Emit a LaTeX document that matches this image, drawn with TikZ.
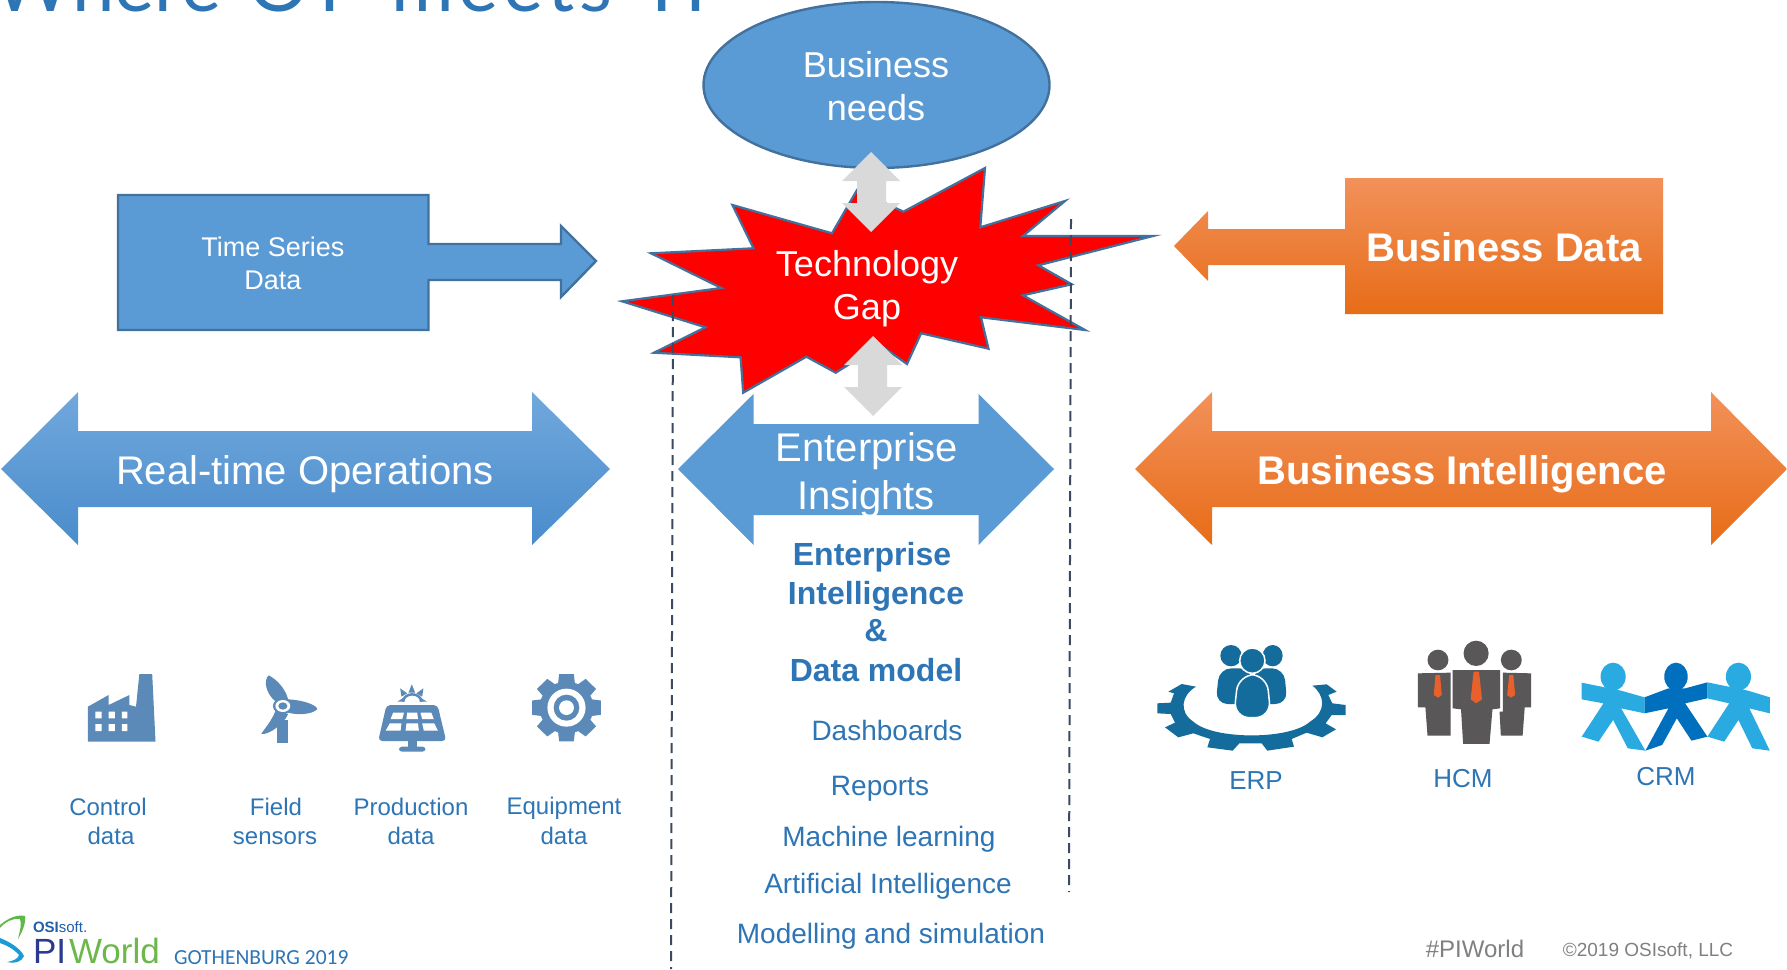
\documentclass[tikz,border=0pt]{standalone}
\usepackage{fontspec}
\setmainfont{Liberation Sans}
\newfontfamily\titlefont{Lato}
\newfontfamily\meetsfont[LetterSpace=6]{Lato}
\newfontfamily\cityfont{Carlito}
\usetikzlibrary{shapes.geometric}
\definecolor{bluefill}{HTML}{5B9BD5}
\definecolor{blueline}{HTML}{41719C}
\definecolor{bluetext}{HTML}{2E75B6}
\definecolor{icongray}{HTML}{595757}
\definecolor{iconblue}{HTML}{5B8AB8}
\definecolor{erpblue}{HTML}{146C9C}
\definecolor{tieorange}{HTML}{E8602C}
\definecolor{crmlight}{HTML}{29ABE2}
\definecolor{crmdark}{HTML}{0070BE}
\definecolor{dashcol}{HTML}{3B4A5E}
\definecolor{gradBa}{HTML}{71A8DC}
\definecolor{gradBb}{HTML}{5A9CDB}
\definecolor{gradBc}{HTML}{4A8CCC}
\definecolor{gradOa}{HTML}{F2915A}
\definecolor{gradOb}{HTML}{F67C28}
\definecolor{gradOc}{HTML}{E76C17}
\definecolor{logoblue}{HTML}{2B3A8F}
\definecolor{logogreen}{HTML}{6CB84A}
\definecolor{logomid}{HTML}{2060A8}
\definecolor{swooshgreen}{HTML}{5DB848}
\definecolor{swooshblue}{HTML}{1C9AD6}
\newcommand{\fs}[1]{\fontsize{#1}{#1}\selectfont}
\tikzset{
  x=1pt,y=-1pt,
  lbl/.style={inner sep=0pt,outer sep=0pt,align=center,text=bluetext},
  wlbl/.style={lbl,text=white},
  shapeblue/.style={fill=bluefill,draw=blueline,line width=2.4pt},
  bluegrad/.style={top color=gradBa,middle color=gradBb,bottom color=gradBc,draw=none},
  orangegrad/.style={top color=gradOa,middle color=gradOb,bottom color=gradOc,draw=none},
  grayarrow/.style={fill=black!15,draw=none},
  gapdash/.style={draw=dashcol,line width=2pt,dash pattern=on 10pt off 6pt},
  zoomA/.style={shift={(0,640)},x=0.4147pt,y=-0.3333pt},
  zoomB/.style={shift={(1130,620)},x=0.419pt,y=-0.3333pt},
  zoomC/.style={shift={(1150,640)},x=0.3333pt,y=-0.3333pt},
}
\begin{document}
\begin{tikzpicture}
\useasboundingbox (0,0) rectangle (1787,969);
\fill[white] (0,0) rectangle (1787,969);

% title, cut by the top edge
\node[lbl,anchor=base west,font=\titlefont] (title) at (-6,11) {\fs{76}Where\hspace{8pt} OT\hspace{20pt} {\meetsfont\fs{76}meets}\hspace{20pt} IT};

% left and right big arrows
\path[bluegrad] (1,469)--(78,392)--(78,431)--(532,431)--(532,392)--(610,469)--(532,545)--(532,507)--(78,507)--(78,545)--cycle;
\path[orangegrad] (1135,469)--(1212,392)--(1212,431)--(1711,431)--(1711,392)--(1787,469)--(1711,545)--(1711,507)--(1212,507)--(1212,545)--cycle;
\fill[bluefill] (678,469)--(753.5,394)--(753.5,424)--(978.5,424)--(978.5,394)--(1054,469)--(978.5,545)--(978.5,515)--(753.5,515)--(753.5,545)--cycle;

% callouts
\path[shapeblue] (118,195)--(428.5,195)--(428.5,244)--(561,244)--(561,226)--(596,261)--(561,297)--(561,280)--(428.5,280)--(428.5,330)--(118,330)--cycle;
\path[orangegrad] (1663,178)--(1663,314)--(1345,314)--(1345,265)--(1208,265)--(1208,281)--(1174,246)--(1208,211)--(1208,229)--(1345,229)--(1345,178)--cycle;

% ellipse
\node[shapeblue,ellipse,minimum width=346pt,minimum height=166pt,inner sep=0pt] (needs) at (876.5,85) {};

% star
\path[fill=red,draw=blueline,line width=2.2pt,line join=miter,miter limit=20]
 (985,168)--(980.3,227.3)--(1065,201)--(1022.9,236)--(1153,236)--(1038.4,265.3)--(1071.7,284.3)--(1022.9,295.3)--(1085,330)--(981,317.3)--(988.5,348.7)--(921.1,333.3)--(907,364)--(880,345)--(835.7,372.7)--(806.4,356.7)--(743.2,392.7)--(740.6,357.3)--(654,352.7)--(705.4,327.3)--(622,301.3)--(721.3,288)--(651,253.3)--(753.5,248.3)--(732.4,205)--(832,233.3)--(857,190)--(903.4,211.7)--cycle;

% dashed lines
\coordinate (dl1) at (673,295); \coordinate (dl2) at (671,969);
\coordinate (dr1) at (1071,219); \coordinate (dr2) at (1069,892);
\draw[gapdash] (dl1)--(dl2);
\draw[gapdash] (dr1)--(dr2);

% grey double arrows
\path[grayarrow] (871,152)--(900,181)--(886,181)--(886,203)--(900,203)--(871,232)--(842,203)--(857,203)--(857,181)--(842,181)--cycle;
\path[grayarrow] (873,336)--(902,365)--(887,365)--(887,387)--(902,387)--(873,416)--(844,387)--(858,387)--(858,365)--(844,365)--cycle;

% big texts
\node[wlbl] (needsA) at (876,65) {\fs{36}Business};
\node[wlbl] (needsB) at (876,108) {\fs{36}needs};
\node[wlbl] (gapA) at (867,267) {\fs{36}Technology};
\node[wlbl] (gapB) at (867,311) {\fs{36}Gap};
\node[wlbl] (tsA) at (273,247) {\fs{27}Time Series};
\node[wlbl] (tsB) at (273,280) {\fs{27}Data};
\node[wlbl,font=\bfseries] (bd) at (1504,247) {\fs{40}Business Data};
\node[wlbl] (rt) at (305,474) {\fs{40}Real-time Operations};
\node[wlbl] (eiA) at (867,451) {\fs{40}Enterprise};
\node[wlbl] (eiB) at (866,499) {\fs{40}Insights};
\node[wlbl,font=\bfseries] (bi) at (1462,474) {\fs{40}Business Intelligence};

% centre column
\node[lbl,font=\bfseries] (c1) at (872,557) {\fs{32}Enterprise};
\node[lbl,font=\bfseries] (c2) at (876,596) {\fs{32}Intelligence};
\node[lbl,font=\bfseries] (c3) at (876,631) {\fs{32}\&};
\node[lbl,font=\bfseries] (c4) at (876,670) {\fs{32}Data model};
\node[lbl] (m1) at (887,730) {\fs{28}Dashboards};
\node[lbl] (m2) at (880,789) {\fs{28}Reports};
\node[lbl] (m3) at (889,839) {\fs{28}Machine learning};
\node[lbl] (m4) at (888,886) {\fs{28}Artificial Intelligence};
\node[lbl] (m5) at (891,936) {\fs{28}Modelling and simulation};

% small labels
\node[lbl] (l1a) at (108,807) {\fs{24}Control};
\node[lbl] (l1b) at (111,836) {\fs{24}data};
\node[lbl] (l2a) at (276,807) {\fs{24}Field};
\node[lbl] (l2b) at (275,838) {\fs{24}sensors};
\node[lbl] (l3a) at (411,807) {\fs{24}Production};
\node[lbl] (l3b) at (411,836) {\fs{24}data};
\node[lbl] (l4a) at (564,808) {\fs{24}Equipment};
\node[lbl] (l4b) at (564,836) {\fs{24}data};
\node[lbl] (erp) at (1256,781) {\fs{26}ERP};
\node[lbl] (hcm) at (1463,779) {\fs{26}HCM};
\node[lbl] (crm) at (1666,777) {\fs{26}CRM};

% footer
\node[lbl,text=black!50] (tag) at (1475,949) {\fs{24}\#PIWorld};
\node[lbl,text=black!50] (copy) at (1648,951) {\fs{19}©2019 OSIsoft, LLC};
\node[lbl,anchor=base west,font=\cityfont] (city) at (174,964) {\fs{21.5}GOTHENBURG 2019};
\node[lbl,anchor=base west,text=logoblue] (pi) at (33,963) {\fs{35}PI};
\node[lbl,anchor=base west,text=logogreen] (world) at (69,963) {\fs{35}World};
\node[lbl,anchor=base west,text=logomid] (osi) at (33,932) {\fs{15}\textbf{OSI}soft.};

% logo swoosh
\fill[swooshgreen] (0,925) .. controls (8,918) and (18,914) .. (25,916) .. controls (26,924) and (22,932) .. (18,939) .. controls (20,930) and (22,924) .. (20,919) .. controls (12,918) and (5,922) .. (0,928) -- cycle;
\fill[swooshblue] (0,938) .. controls (10,942) and (20,948) .. (24,956) .. controls (22,962) and (14,964) .. (7,962) .. controls (13,961) and (18,959) .. (19,955) .. controls (14,949) and (6,945) .. (0,943) -- cycle;

\begin{scope}[zoomA]
% factory
\fill[iconblue] (212,200)--(262,165)--(262,195)--(312,165)--(312,195)--(328,200)--(336,102)--(367,102)--(375,305)--(212,305)--cycle;
\fill[white] (230,215) rectangle (245,235) (262,215) rectangle (277,235) (294,215) rectangle (307,235)
 (230,252) rectangle (245,273) (262,252) rectangle (277,273) (294,252) rectangle (307,273);
% wind turbine
\fill[iconblue] (668,240)--(695,240)--(695,308)--(668,308)--cycle;
\fill[iconblue] (665,185) .. controls (640,160) and (635,120) .. (648,106) .. controls (670,120) and (690,150) .. (695,180)--cycle;
\fill[iconblue] (695,178) .. controls (730,180) and (765,195) .. (765,208) .. controls (750,225) and (715,225) .. (695,218)--cycle;
\fill[iconblue] (665,210) .. controls (655,245) and (635,270) .. (630,282) .. controls (650,285) and (685,250) .. (695,222)--cycle;
\fill[iconblue] (682,198) ellipse[x radius=24,y radius=24];
\fill[white] (682,198) ellipse[x radius=18,y radius=18];
\fill[iconblue] (682,198) ellipse[x radius=11,y radius=11];
% solar panel
\fill[iconblue,rounded corners=4pt] (932,195)--(1055,195)--(1076,303)--(912,303)--cycle;
\fill[white] (948,218)--(974,218)--(970,237)--(942,237)--cycle (982,218)--(1006,218)--(1008,237)--(980,237)--cycle (1014,218)--(1040,218)--(1046,237)--(1018,237)--cycle
 (940,250)--(968,250)--(966,272)--(930,272)--cycle (980,250)--(1008,250)--(1010,272)--(978,272)--cycle (1018,250)--(1047,250)--(1056,272)--(1022,272)--cycle;
\fill[iconblue] (985,303) rectangle (1005,320);
\fill[iconblue,rounded corners=3pt] (962,335)--(962,320)--(1026,320)--(1026,335)--cycle;
\draw[iconblue,line width=2.5pt] (972,185) arc[start angle=180,end angle=360,x radius=22,y radius=22];
\fill[iconblue] (993,133)--(985,158)--(1001,158)--cycle (965,145)--(968,170)--(982,160)--cycle (1021,145)--(1018,170)--(1004,160)--cycle (958,185)--(975,172)--(975,185)--cycle (1030,185)--(1012,172)--(1012,185)--cycle;
% gear
\foreach \a in {0,45,...,315}{
  \fill[iconblue] ({1366+85*cos(\a-12)},{203+103*sin(\a-12)}) -- ({1366+85*cos(\a+12)},{203+103*sin(\a+12)}) -- ({1366+60*cos(\a+20)},{203+75*sin(\a+20)}) -- ({1366+60*cos(\a-20)},{203+75*sin(\a-20)}) -- cycle;
}
\fill[iconblue] (1366,203) ellipse[x radius=65,y radius=78];
\fill[white] (1366,203) ellipse[x radius=46,y radius=57];
\fill[iconblue] (1366,203) ellipse[x radius=31,y radius=39];
\fill[white] (1366,203) ellipse[x radius=18,y radius=22];
\end{scope}

% ERP
\begin{scope}[zoomC]
\fill[erpblue] (487,137)--(530,133)--(560,155)--(535,165)--(547,190)--(587,195)--(587,225)--(545,225)--(527,250)--(558,268)--(517,292)--(470,278)--(425,297)--(432,320)--(352,332)--(335,310)--(268,310)--(248,332)--(172,322)--(180,297)--(130,280)--(85,292)--(45,262)--(75,248)--(62,222)--(22,220)--(22,190)--(62,188)--(72,160)--(55,155)--(95,132)--(138,140) .. controls (95,165) and (85,215) .. (130,245) .. controls (190,300) and (420,300) .. (480,245) .. controls (530,215) and (525,165) .. (487,137) -- cycle;
\fill[erpblue] (243,47) ellipse[x radius=32,y radius=32];
\fill[erpblue] (368,47) ellipse[x radius=30,y radius=32];
\fill[erpblue,rounded corners=12pt] (208,85)--(305,85)--(305,192)--(197,192)--cycle;
\fill[erpblue,rounded corners=12pt] (310,85)--(402,85)--(412,192)--(310,192)--cycle;
\fill[erpblue,draw=white,line width=1.5pt] (307,62) ellipse[x radius=38,y radius=38];
\fill[erpblue,draw=white,line width=1.5pt,rounded corners=16pt] (265,104)--(350,104)--(363,233)--(251,233)--cycle;
\end{scope}

\begin{scope}[zoomB]
% HCM
\fill[icongray] (735,120) ellipse[x radius=25,y radius=31] (826,100) ellipse[x radius=30,y radius=38] (910,120) ellipse[x radius=25,y radius=31];
\fill[icongray] (770,150)--(883,150)--(883,265)--(865,268)--(858,372)--(795,372)--(790,268)--(770,265)--cycle;
\fill[icongray] (890,158)--(957,160)--(957,262)--(942,262)--(937,347)--(885,347)--(882,275)--(890,275)--cycle;
\fill[icongray] (687,160)--(765,158)--(765,347)--(710,347)--(705,262)--(687,262)--cycle;
\fill[tieorange] (820,155)--(833,155)--(840,238)--(826,250)--(813,238)--cycle (729,165)--(740,165)--(744,225)--(735,233)--(725,225)--cycle (905,165)--(915,165)--(919,225)--(909,233)--(900,225)--cycle;
% CRM
\fill[crmlight] (1153,170) ellipse[x radius=30,y radius=42];
\fill[crmlight] (1078,188)--(1172,212)--(1228,232)--(1228,280)--(1172,265)--(1230,392)--(1188,385)--(1153,300)--(1118,365)--(1078,350)--(1130,250)--(1078,238)--cycle;
\fill[crmlight] (1452,170) ellipse[x radius=30,y radius=42];
\fill[crmlight] (1378,187)--(1475,212)--(1527,232)--(1527,280)--(1478,265)--(1527,392)--(1485,385)--(1452,300)--(1418,365)--(1378,350)--(1430,250)--(1378,235)--cycle;
\fill[crmdark] (1303,170) ellipse[x radius=28,y radius=42];
\fill[crmdark] (1228,232)--(1285,205)--(1325,205)--(1378,187)--(1378,235)--(1325,250)--(1378,350)--(1340,362)--(1305,295)--(1270,375)--(1230,392)--(1285,265)--(1228,280)--cycle;
\end{scope}
\end{tikzpicture}
\end{document}
